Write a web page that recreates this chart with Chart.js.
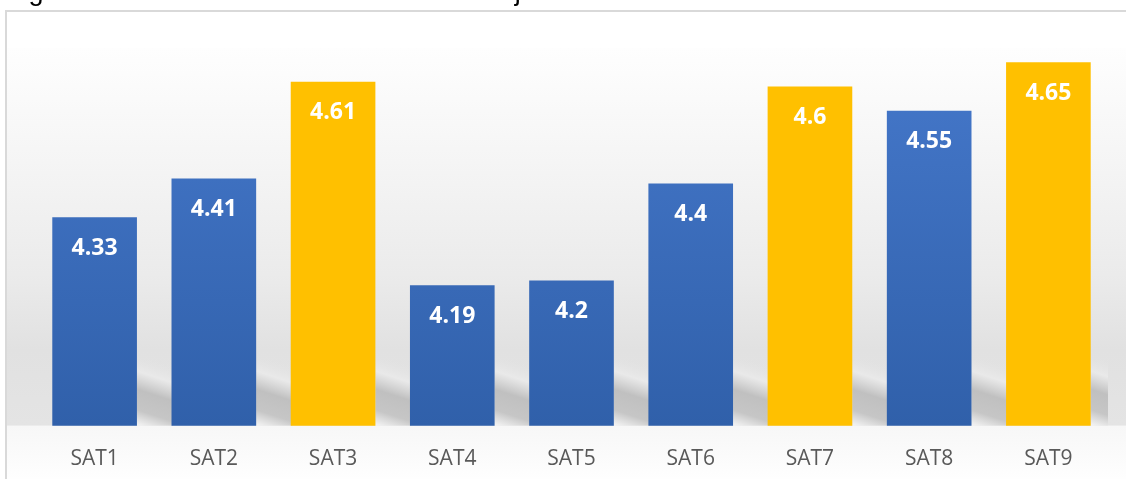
<!DOCTYPE html>
<html>
<head>
<meta charset="utf-8">
<script src="https://cdn.jsdelivr.net/npm/chart.js@4"></script>
<style>
  html, body { margin: 0; padding: 0; background: #fff; overflow: hidden; }
  #wrap { position: relative; width: 1126px; height: 479px; overflow: hidden; }
  #title { position: absolute; left: 6px; top: -22px; font: 27px "Liberation Sans", Arial, sans-serif; line-height: 27px; color: #000; white-space: nowrap; }
  canvas { position: absolute; left: 0; top: 0; }
</style>
</head>
<body>
<div id="wrap">
  <canvas id="myChart" width="1126" height="493"></canvas>
  <div id="title">Figura 4. Nivel de satisfacción con el trabajo del docente tutor</div>
</div>
<script>
// chart values
const categories = ['SAT1', 'SAT2', 'SAT3', 'SAT4', 'SAT5', 'SAT6', 'SAT7', 'SAT8', 'SAT9'];
const values = [4.33, 4.41, 4.61, 4.19, 4.2, 4.4, 4.6, 4.55, 4.65];
const highlighted = ['SAT3', 'SAT7', 'SAT9'];
const yMin = 3.9;
const yMax = 4.7;

const YELLOW = '#FFC000';
const VISIBLE_H = 479;

function barColor(context) {
    const chart = context.chart;
    const area = chart.chartArea;
    if (highlighted.includes(categories[context.dataIndex])) return YELLOW;
    if (!area) return '#4472C4';
    const g = chart.ctx.createLinearGradient(0, area.top, 0, area.bottom);
    g.addColorStop(0, '#4679CC');
    g.addColorStop(1, '#3060AA');
    return g;
}

// background, frame and floor shadow behind the bars
const backdrop = {
    id: 'backdrop',
    beforeDraw(chart) {
        const ctx = chart.ctx;
        const area = chart.chartArea;
        ctx.save();
        const bg = ctx.createLinearGradient(0, 48, 0, area.bottom);
        bg.addColorStop(0, '#fefefe');
        bg.addColorStop(0.3, '#f5f5f5');
        bg.addColorStop(0.6, '#ebebeb');
        bg.addColorStop(0.8, '#e1e1e1');
        bg.addColorStop(1, '#e4e4e4');
        ctx.fillStyle = bg;
        ctx.fillRect(6, 48, chart.width - 6, area.bottom - 48);
        const low = ctx.createLinearGradient(0, area.bottom, 0, VISIBLE_H);
        low.addColorStop(0, '#f7f7f7');
        low.addColorStop(1, '#fefefe');
        ctx.fillStyle = low;
        ctx.fillRect(6, area.bottom, chart.width - 6, chart.height - area.bottom);

        ctx.strokeStyle = '#d9d9d9';
        ctx.lineWidth = 2;
        ctx.beginPath();
        ctx.moveTo(6, chart.height);
        ctx.lineTo(6, 11);
        ctx.lineTo(chart.width, 11);
        ctx.stroke();
        ctx.restore();
    },
    beforeDatasetsDraw(chart) {
        const ctx = chart.ctx;
        const area = chart.chartArea;
        const meta = chart.getDatasetMeta(0);
        const yb = area.bottom;
        ctx.save();
        ctx.beginPath();
        ctx.rect(area.left, area.top, area.right - area.left, area.bottom - area.top);
        ctx.clip();
        meta.data.forEach((bar) => {
            const x0 = bar.x + bar.width / 2;
            const w = 36;
            const top = yb - 66;
            const g = ctx.createLinearGradient(x0 + w * 0.6, top, x0, yb);
            g.addColorStop(0, 'rgba(226,226,226,0)');
            g.addColorStop(0.25, 'rgba(234,234,234,0.9)');
            g.addColorStop(0.5, 'rgba(192,192,192,1)');
            g.addColorStop(0.78, 'rgba(198,198,198,1)');
            g.addColorStop(1, 'rgba(246,246,246,1)');
            ctx.fillStyle = g;
            ctx.fillRect(x0, top, w, yb - top);
        });
        ctx.restore();
    }
};

// value labels inside the top of each bar
const valueLabels = {
    id: 'valueLabels',
    afterDatasetsDraw(chart) {
        const ctx = chart.ctx;
        const meta = chart.getDatasetMeta(0);
        ctx.save();
        ctx.fillStyle = '#ffffff';
        ctx.font = 'bold 23px "Open Sans"';
        ctx.textAlign = 'center';
        ctx.textBaseline = 'middle';
        meta.data.forEach((bar, i) => {
            ctx.fillText(String(values[i]), bar.x, bar.y + 31);
        });
        ctx.restore();
    }
};

const ctx = document.getElementById('myChart').getContext('2d');
const myChart = new Chart(ctx, {
    type: 'bar',
    data: {
        labels: categories,
        datasets: [{
            data: values,
            backgroundColor: barColor,
            borderWidth: 0,
            categoryPercentage: 1,
            barPercentage: 0.71
        }]
    },
    options: {
        responsive: false,
        animation: false,
        layout: { padding: { left: 35, right: 18, top: 38, bottom: 0 } },
        plugins: {
            legend: { display: false },
            tooltip: { enabled: false }
        },
        scales: {
            x: {
                grid: { display: false, drawTicks: false },
                border: { display: false },
                ticks: {
                    color: '#595959',
                    padding: 21,
                    font: { family: 'Open Sans', size: 21 }
                }
            },
            y: {
                display: false,
                min: yMin,
                max: yMax
            }
        }
    },
    plugins: [backdrop, valueLabels]
});
</script>
</body>
</html>
